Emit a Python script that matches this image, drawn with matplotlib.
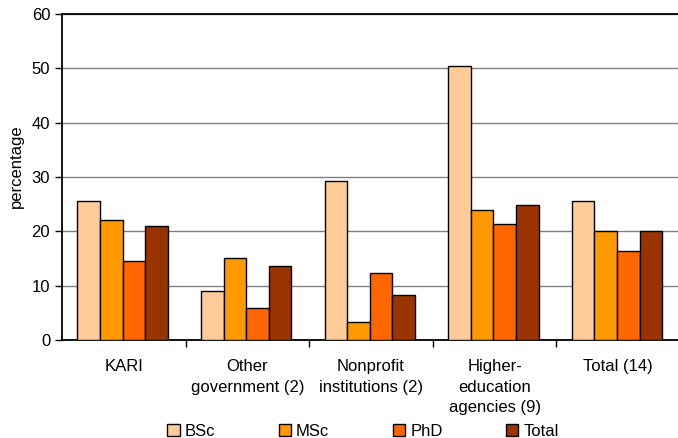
import matplotlib.pyplot as plt
import numpy as np

plt.rcParams['font.family'] = ['Liberation Sans', 'DejaVu Sans']

categories = ["KARI", "Other\ngovernment (2)", "Nonprofit\ninstitutions (2)",
              "Higher-\neducation\nagencies (9)", "Total (14)"]
series = ["BSc", "MSc", "PhD", "Total"]
bsc = [25.6, 9.1, 29.2, 50.4, 25.5]
msc = [22.0, 15.1, 3.4, 24.0, 20.1]
phd = [14.5, 5.8, 12.3, 21.4, 16.4]
total = [21.0, 13.6, 8.2, 24.9, 20.1]
colors = ["#FFCC99", "#FF9900", "#FF6600", "#993300"]

fig = plt.figure(figsize=(6.78, 4.38), dpi=100)
ax = fig.add_axes([62 / 678, 1 - 340 / 438, 618 / 678, 326 / 438])

x = np.arange(len(categories))
w = 0.183
for i, vals in enumerate([bsc, msc, phd, total]):
    ax.bar(x + (i - 1.5) * w - 0.01, vals, w, color=colors[i], edgecolor="black",
           linewidth=1, label=series[i], zorder=3)

ax.set_xlim(-0.5, len(categories) - 0.5)
ax.set_ylim(0, 60)
ax.set_yticks(range(0, 61, 10))
ax.yaxis.grid(True, color="#808080", linewidth=1, zorder=0)
ax.set_xticks(x)
ax.set_xticklabels(categories, fontsize=12, linespacing=1.45)
ax.tick_params(axis="x", length=0, pad=14)
ax.set_xticks(np.arange(0.5, len(categories) - 0.5), minor=True)
ax.tick_params(axis="x", which="minor", length=5, width=1)
ax.tick_params(axis="y", labelsize=12, length=5, width=1)
ax.spines["right"].set_visible(False)
for s in ["left", "bottom", "top"]:
    ax.spines[s].set_linewidth(1.3)
ax.set_ylabel("percentage", fontsize=12)
ax.yaxis.set_label_coords(-0.062, 0.534)

fig.legend(loc="center", bbox_to_anchor=(363 / 678, 1 - 431 / 438), ncol=4, frameon=False,
           fontsize=12, handlelength=0.75, handleheight=0.75, columnspacing=3.8,
           handletextpad=0.3, borderpad=0)

fig.savefig("out.png", dpi=100)
